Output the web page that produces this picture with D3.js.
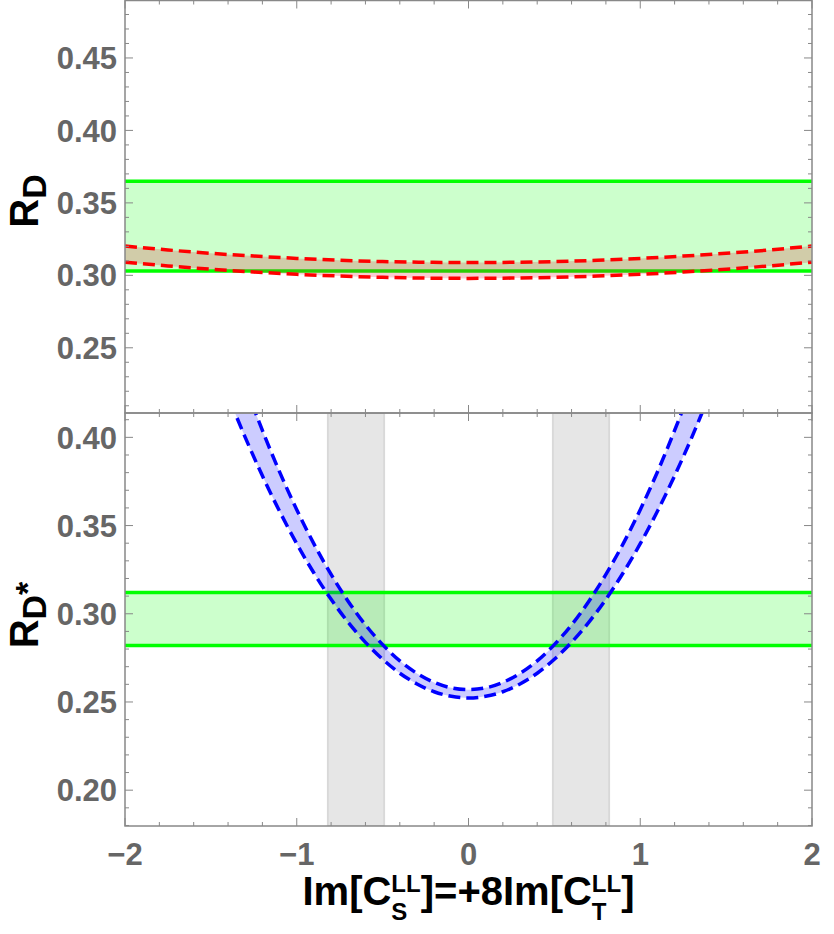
<!DOCTYPE html>
<html>
<head>
<meta charset="utf-8">
<script src="https://cdn.jsdelivr.net/npm/d3@7"></script>
<style>
  body { margin: 0; background: #fff; }
  text { font-family: "Liberation Sans", Arial, sans-serif; font-weight: bold; }
</style>
</head>
<body>
<div id="chart"></div>
<script>
// DATA
const xMajorTicks = [-2, -1, 0, 1, 2];
const xTickLabels = ["\u22122", "\u22121", "0", "1", "2"];
const topYTicks = [0.25, 0.30, 0.35, 0.40, 0.45];
const botYTicks = [0.20, 0.25, 0.30, 0.35, 0.40];

// experimental bands
const rdBand = [0.303, 0.365];
const rdsBand = [0.282, 0.312];
// allowed regions (gray)
const grayBands = [[-0.82, -0.49], [0.49, 0.82]];

// R_D prediction (red dashed)
const redX = [-2, -1.75, -1.5, -1.25, -1, -0.75, -0.5, -0.25, 0, 0.25, 0.5, 0.75, 1, 1.25, 1.5, 1.75, 2];
const redUpper = [0.3202, 0.3175, 0.3152, 0.3133, 0.3117, 0.3104, 0.3095, 0.3090, 0.3088, 0.3090, 0.3095, 0.3104, 0.3117, 0.3133, 0.3152, 0.3175, 0.3202];
const redLower = [0.3091, 0.3065, 0.3042, 0.3023, 0.3007, 0.2995, 0.2986, 0.2981, 0.2979, 0.2981, 0.2986, 0.2995, 0.3007, 0.3023, 0.3042, 0.3065, 0.3091];

// R_D* prediction (blue dashed)
const blueX = [-1.5, -1.4, -1.3, -1.2, -1.1, -1.0, -0.9, -0.8, -0.7, -0.6, -0.5, -0.4, -0.3, -0.2, -0.1, 0,
  0.1, 0.2, 0.3, 0.4, 0.5, 0.6, 0.7, 0.8, 0.9, 1.0, 1.1, 1.2, 1.3, 1.4, 1.5];
const blueUpper = [0.4865, 0.4569, 0.4294, 0.4039, 0.3804, 0.3590, 0.3396, 0.3223, 0.3070, 0.2937, 0.2825, 0.2733, 0.2662, 0.2611, 0.2580, 0.2570,
  0.2580, 0.2611, 0.2662, 0.2733, 0.2825, 0.2937, 0.3070, 0.3223, 0.3396, 0.3590, 0.3804, 0.4039, 0.4294, 0.4569, 0.4865];
const blueLower = [0.4490, 0.4236, 0.4000, 0.3782, 0.3581, 0.3397, 0.3231, 0.3082, 0.2951, 0.2838, 0.2742, 0.2663, 0.2602, 0.2558, 0.2532, 0.2523,
  0.2532, 0.2558, 0.2602, 0.2663, 0.2742, 0.2838, 0.2951, 0.3082, 0.3231, 0.3397, 0.3581, 0.3782, 0.4000, 0.4236, 0.4490];

// CANVAS
const WIDTH = 834, HEIGHT = 934;
const LEFT = 125, RIGHT = 812;
const svg = d3.select("#chart").append("svg")
  .attr("width", WIDTH).attr("height", HEIGHT);

const x = d3.scaleLinear().domain([-2, 2]).range([LEFT, RIGHT]);
const yTop = d3.scaleLinear().domain([0.205, 0.49]).range([413, 0]);
const yBot = d3.scaleLinear().domain([0.1797, 0.4138]).range([826, 413]);

const FRAME = "#888";
const GREEN = "#00ff00";

function clip(id, y0, y1) {
  svg.append("clipPath").attr("id", id)
    .append("rect").attr("x", LEFT).attr("y", y0).attr("width", RIGHT - LEFT).attr("height", y1 - y0);
}
clip("clipTop", 0, 413);
clip("clipBot", 413, 826);

// TOP PANEL
const topG = svg.append("g").attr("clip-path", "url(#clipTop)");
topG.append("rect")
  .attr("x", LEFT).attr("width", RIGHT - LEFT)
  .attr("y", yTop(rdBand[1])).attr("height", yTop(rdBand[0]) - yTop(rdBand[1]))
  .attr("fill", "#ccffcc");
rdBand.forEach(v => {
  topG.append("line").attr("x1", LEFT).attr("x2", RIGHT)
    .attr("y1", yTop(v)).attr("y2", yTop(v))
    .attr("stroke", GREEN).attr("stroke-width", 3.5);
});
const redArea = d3.area()
  .x((d, i) => x(redX[i]))
  .y0((d, i) => yTop(redLower[i]))
  .y1((d, i) => yTop(redUpper[i]))
  .curve(d3.curveMonotoneX);
topG.append("path").datum(redX).attr("d", redArea)
  .attr("fill", "rgba(230,0,30,0.2)");
[redUpper, redLower].forEach(arr => {
  topG.append("path").datum(arr)
    .attr("d", d3.line().x((d, i) => x(redX[i])).y(d => yTop(d)).curve(d3.curveMonotoneX))
    .attr("fill", "none").attr("stroke", "#ff0000").attr("stroke-width", 3.5)
    .attr("stroke-dasharray", "12,6");
});

// BOTTOM PANEL
const botG = svg.append("g").attr("clip-path", "url(#clipBot)");
botG.selectAll("rect.gray").data(grayBands).enter().append("rect")
  .attr("class", "gray")
  .attr("x", d => x(d[0])).attr("width", d => x(d[1]) - x(d[0]))
  .attr("y", 413).attr("height", 413)
  .attr("fill", "rgba(128,128,128,0.2)")
  .attr("stroke", "rgba(128,128,128,0.25)").attr("stroke-width", 1.5);
botG.append("rect")
  .attr("x", LEFT).attr("width", RIGHT - LEFT)
  .attr("y", yBot(rdsBand[1])).attr("height", yBot(rdsBand[0]) - yBot(rdsBand[1]))
  .attr("fill", "rgba(0,255,0,0.2)");
rdsBand.forEach(v => {
  botG.append("line").attr("x1", LEFT).attr("x2", RIGHT)
    .attr("y1", yBot(v)).attr("y2", yBot(v))
    .attr("stroke", GREEN).attr("stroke-width", 3.5);
});
const blueArea = d3.area()
  .x((d, i) => x(blueX[i]))
  .y0((d, i) => yBot(blueLower[i]))
  .y1((d, i) => yBot(blueUpper[i]))
  .curve(d3.curveMonotoneX);
botG.append("path").datum(blueX).attr("d", blueArea)
  .attr("fill", "rgba(0,0,255,0.2)");
[blueUpper, blueLower].forEach(arr => {
  botG.append("path").datum(arr)
    .attr("d", d3.line().x((d, i) => x(blueX[i])).y(d => yBot(d)).curve(d3.curveMonotoneX))
    .attr("fill", "none").attr("stroke", "#0000ff").attr("stroke-width", 3.5)
    .attr("stroke-dasharray", "12,6");
});

// FRAMES + TICKS
const xMinor = d3.range(-2, 2.001, 0.2).map(v => +v.toFixed(2));
function frame(y, yTop0, yBot0, yMajor) {
  const g = svg.append("g");
  g.append("rect").attr("x", LEFT).attr("y", yTop0).attr("width", RIGHT - LEFT).attr("height", yBot0 - yTop0)
    .attr("fill", "none").attr("stroke", FRAME).attr("stroke-width", 1.5);
  // x ticks, top and bottom, pointing inward
  xMinor.forEach(v => {
    const len = xMajorTicks.includes(Math.round(v * 10) / 10) ? 8 : 4;
    g.append("line").attr("x1", x(v)).attr("x2", x(v)).attr("y1", yBot0).attr("y2", yBot0 - len)
      .attr("stroke", FRAME);
    g.append("line").attr("x1", x(v)).attr("x2", x(v)).attr("y1", yTop0).attr("y2", yTop0 + len)
      .attr("stroke", FRAME);
  });
  // y ticks
  const [d0, d1] = y.domain();
  const minor = d3.range(Math.ceil(d0 * 100), Math.floor(d1 * 100) + 1).map(v => v / 100);
  minor.forEach(v => {
    const len = yMajor.some(m => Math.abs(m - v) < 1e-6) ? 8 : 4;
    g.append("line").attr("x1", LEFT).attr("x2", LEFT + len).attr("y1", y(v)).attr("y2", y(v)).attr("stroke", FRAME);
    g.append("line").attr("x1", RIGHT).attr("x2", RIGHT - len).attr("y1", y(v)).attr("y2", y(v)).attr("stroke", FRAME);
  });
  g.selectAll("text.ytick").data(yMajor).enter().append("text")
    .attr("class", "ytick")
    .attr("x", 117).attr("y", d => y(d)).attr("dy", "0.36em")
    .attr("text-anchor", "end").attr("font-size", 31).attr("fill", "#666")
    .text(d => d.toFixed(2));
}
frame(yTop, 0.5, 413, topYTicks);
frame(yBot, 413, 826, botYTicks);

svg.selectAll("text.xtick").data(xMajorTicks).enter().append("text")
  .attr("class", "xtick")
  .attr("x", d => x(d)).attr("y", 865)
  .attr("text-anchor", "middle").attr("font-size", 31).attr("fill", "#666")
  .text((d, i) => xTickLabels[i]);

// LABELS
// pieces: plain text or stacked sub/superscript
function richLabel(g, pieces, size, small, supDy, subDy) {
  let cx = 0;
  pieces.forEach(p => {
    if (typeof p === "string") {
      const t = g.append("text").attr("x", cx).attr("y", 0).attr("font-size", size).text(p);
      cx += t.node().getComputedTextLength();
    } else {
      let w = 0;
      if (p.sup) {
        const t = g.append("text").attr("x", cx).attr("y", supDy).attr("font-size", small).text(p.sup);
        w = Math.max(w, t.node().getComputedTextLength());
      }
      if (p.sub) {
        const t = g.append("text").attr("x", cx).attr("y", subDy).attr("font-size", small).text(p.sub);
        w = Math.max(w, t.node().getComputedTextLength());
      }
      cx += w;
    }
  });
  return cx;
}

const xl = svg.append("g");
const xlW = richLabel(xl, ["Im[C", { sup: "LL", sub: "S" }, "]=+8Im[C", { sup: "LL", sub: "T" }, "]"], 40, 24, -13, 15);
xl.attr("transform", `translate(${x(0) - xlW / 2}, 905)`);

const yl1 = svg.append("g");
const yl1W = richLabel(yl1, ["R", { sub: "D" }], 40, 34, 0, 8);
yl1.attr("transform", `translate(38, ${201 + yl1W / 2}) rotate(-90)`);

const yl2 = svg.append("g");
const yl2W = richLabel(yl2, ["R", { sub: "D" }, { sup: "*" }], 40, 34, 1, 8);
yl2.attr("transform", `translate(38, ${615 + yl2W / 2}) rotate(-90)`);
</script>
</body>
</html>
